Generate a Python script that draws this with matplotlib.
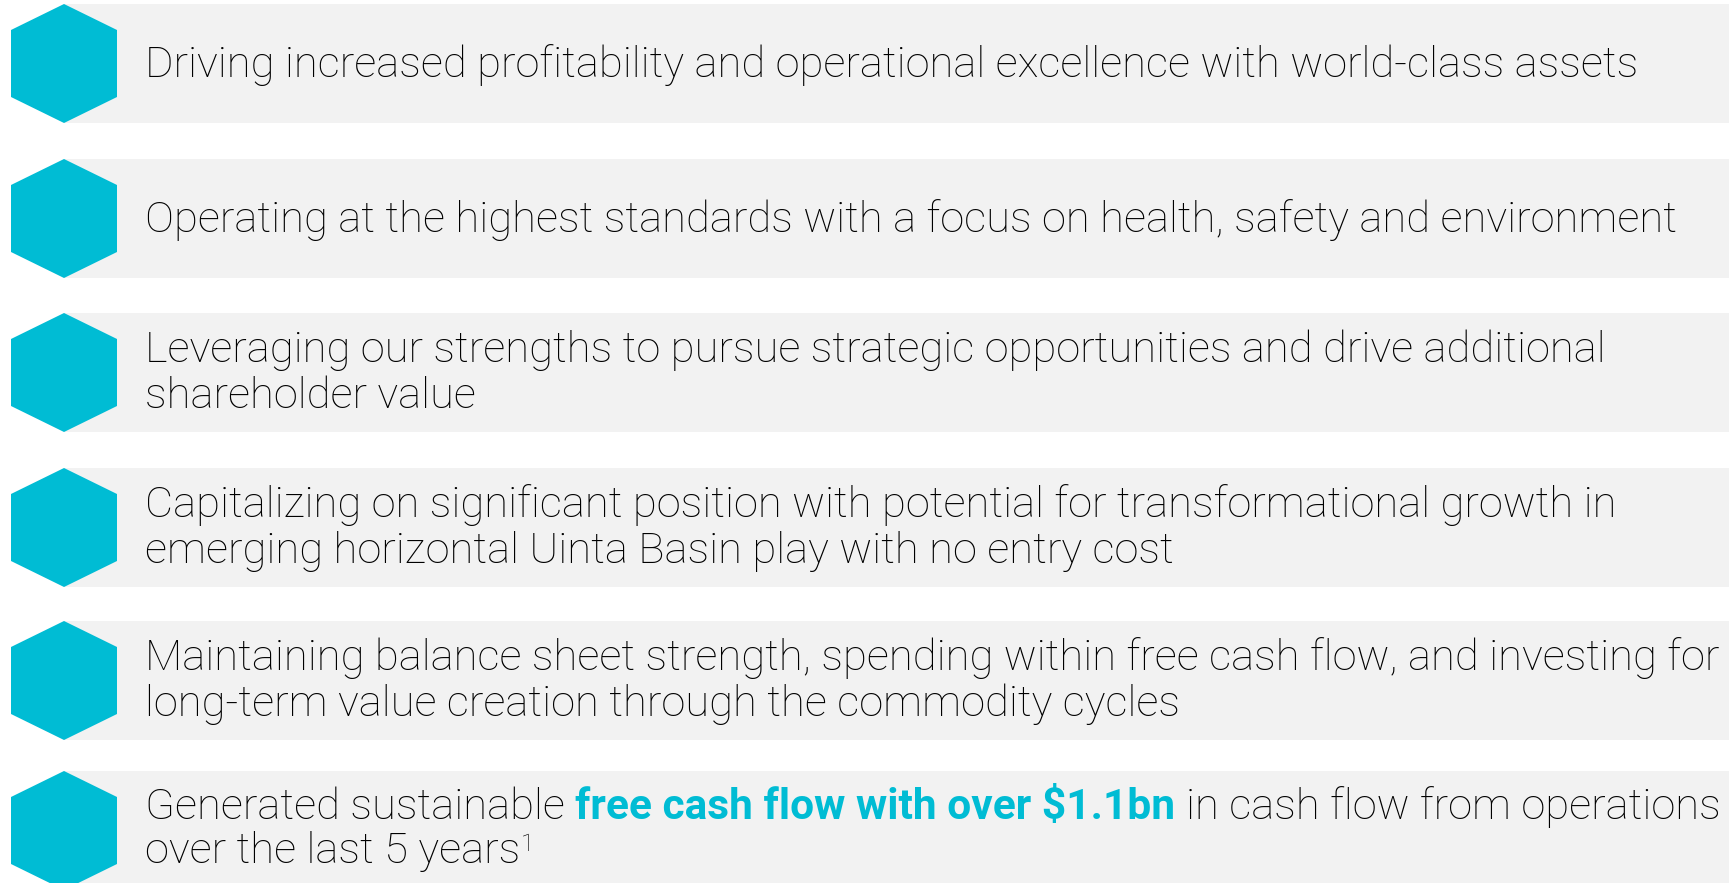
import matplotlib.pyplot as plt
from matplotlib.patches import Polygon, Rectangle

# row texts (as wrapped in the slide)
rowLines = [
    ["Driving increased profitability and operational excellence with world-class assets"],
    ["Operating at the highest standards with a focus on health, safety and environment"],
    ["Leveraging our strengths to pursue strategic opportunities and drive additional",
     "shareholder value"],
    ["Capitalizing on significant position with potential for transformational growth in",
     "emerging horizontal Uinta Basin play with no entry cost"],
    ["Maintaining balance sheet strength, spending within free cash flow, and investing for",
     "long-term value creation through the commodity cycles"],
    None,  # last row has mixed styling, built below
]
lastPre = "Generated sustainable"
lastBold = "free cash flow with over $1.1bn"
lastPost = "in cash flow from operations"
lastLine2 = "over the last 5 years"
lastSup = "1"

teal = '#00BCD4'
barGrey = '#F2F2F2'
txtCol = '#000000'
W, H = 1729, 883
rowTops = [4, 159, 313, 468, 621, 771]   # pixel rows
rowH = 119
txtX = 145
fs = 31.3

fig = plt.figure(figsize=(W/100, H/100), dpi=100)
ax = fig.add_axes([0, 0, 1, 1])
ax.set_xlim(0, W)
ax.set_ylim(H, 0)
ax.axis('off')

def hexagon(top):
    # pointy-top hexagon sitting at the left of each bar
    pts = [(64, top), (117, top+26), (117, top+93), (64, top+rowH),
           (11, top+93), (11, top+26)]
    return Polygon(pts, closed=True, fc=teal, ec='none', zorder=3)

for top in rowTops:
    ax.add_patch(Rectangle((64, top), W-64, rowH, fc=barGrey, ec='none', zorder=1))
    ax.add_patch(hexagon(top))

txtKw = dict(family='Roboto', fontweight='light', color=txtCol, va='baseline',
             ha='left', fontsize=fs, zorder=4)
for top, lines in zip(rowTops, rowLines):
    if lines is None:
        continue
    if len(lines) == 1:
        ax.text(txtX, top+73, lines[0], **txtKw)
    else:
        ax.text(txtX, top+49, lines[0], **txtKw)
        ax.text(txtX, top+95, lines[1], **txtKw)

# last row: mixed weight / colour on one line
fig.canvas.draw()
r = fig.canvas.get_renderer()

def textWidth(s, **kw):
    t = ax.text(0, 0, s, **kw)
    w = t.get_window_extent(renderer=r).width
    t.remove()
    return w

space = textWidth("a a", **txtKw) - textWidth("aa", **txtKw)
top = rowTops[5]
x = txtX
t1 = ax.text(x, top+48, lastPre, **txtKw)
x += t1.get_window_extent(renderer=r).width + space
boldKw = dict(txtKw, fontweight='bold', color=teal, fontsize=30.6)
t2 = ax.text(x, top+48, lastBold, **boldKw)
x += t2.get_window_extent(renderer=r).width + space
ax.text(x, top+48, lastPost, **txtKw)

t4 = ax.text(txtX, top+92, lastLine2, **txtKw)
x = txtX + t4.get_window_extent(renderer=r).width + 1
ax.text(x, top+80, lastSup, **dict(txtKw, fontsize=17))

fig.savefig('out.png', dpi=100)
